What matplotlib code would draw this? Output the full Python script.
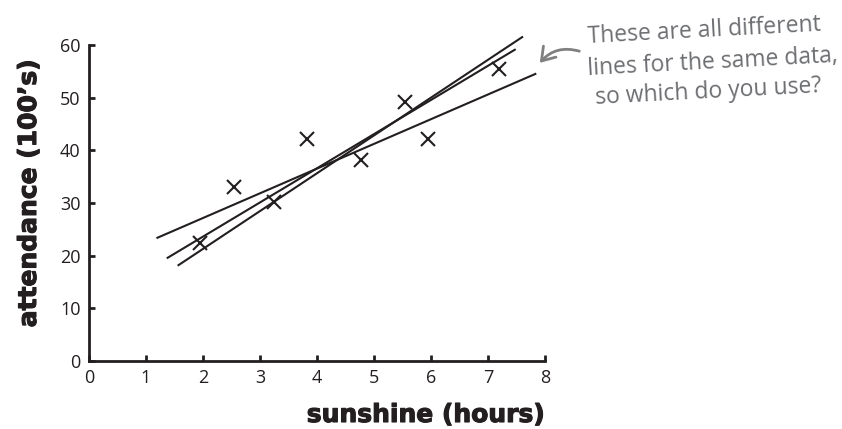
import numpy as np
import matplotlib.pyplot as plt
import matplotlib.patheffects as pe

# sunshine (hours) vs attendance (100's)
hours = [1.95, 2.55, 3.25, 3.83, 4.78, 5.55, 5.95, 7.2]
attendance = [22.5, 33.0, 30.2, 42.1, 38.1, 49.1, 42.1, 55.5]

# three candidate lines: start / end points
line_x0 = [1.2, 1.38, 1.57]
line_y0 = [23.4, 19.6, 18.2]
line_x1 = [7.83, 7.47, 7.6]
line_y1 = [54.5, 59.1, 61.5]

ink = '#231f20'
note_gray = '#6d6e71'

fig = plt.figure(figsize=(8.42, 4.29), dpi=100)
W, H = 842, 429
ax = fig.add_axes([89 / W, 1 - 361 / H, 456 / W, 316 / H])

for x0, y0, x1, y1 in zip(line_x0, line_y0, line_x1, line_y1):
    ax.plot([x0, x1], [y0, y1], color=ink, lw=1.5, clip_on=False)

ax.plot(hours, attendance, linestyle='none', marker='x', markersize=10,
        markeredgewidth=1.5, color=ink, clip_on=False)

ax.set_xlim(0, 8)
ax.set_ylim(0, 60)
ax.set_xticks(range(0, 9))
ax.set_yticks(range(0, 61, 10))
for s in ['top', 'right']:
    ax.spines[s].set_visible(False)
for s in ['left', 'bottom']:
    ax.spines[s].set_linewidth(2)
    ax.spines[s].set_color(ink)
ax.tick_params(direction='in', length=4, width=2, color=ink, labelcolor=ink,
               labelsize=13)
ax.tick_params(axis='y', pad=6)
ax.tick_params(axis='x', pad=6)
for lab in ax.get_xticklabels() + ax.get_yticklabels():
    lab.set_family('Open Sans')

# axis titles (heavy, thickened with a stroke)
heavy = [pe.withStroke(linewidth=0.8, foreground=ink)]
fig.text(545 / W, 1 - 422 / H, 'sunshine (hours)', ha='right', va='baseline',
         fontsize=18, fontweight='bold', family='DejaVu Sans', color=ink,
         path_effects=heavy)
fig.text(29 / W, 1 - 193 / H, 'attendance (100’s)', ha='center', va='center',
         rotation=90, fontsize=18, fontweight='bold', family='DejaVu Sans',
         color=ink, path_effects=heavy)

# handwritten note
note = ['These are all different', 'lines for the same data,', 'so which do you use?']
note_x = [588, 588, 596]
note_y = [43, 75, 104]
for t, nx, ny in zip(note, note_x, note_y):
    fig.text(nx / W, 1 - ny / H, t, ha='left', va='baseline', rotation=3,
             rotation_mode='anchor', fontsize=16.5, family='Open Sans',
             color=note_gray)

fig.patches.append(plt.matplotlib.patches.FancyArrowPatch(
    (582 / W, 1 - 52 / H), (538 / W, 1 - 65 / H), transform=fig.transFigure,
    arrowstyle='->,head_length=9,head_width=6', connectionstyle='arc3,rad=0.35',
    color='#808080', lw=2))

fig.savefig('out.png', dpi=100)
